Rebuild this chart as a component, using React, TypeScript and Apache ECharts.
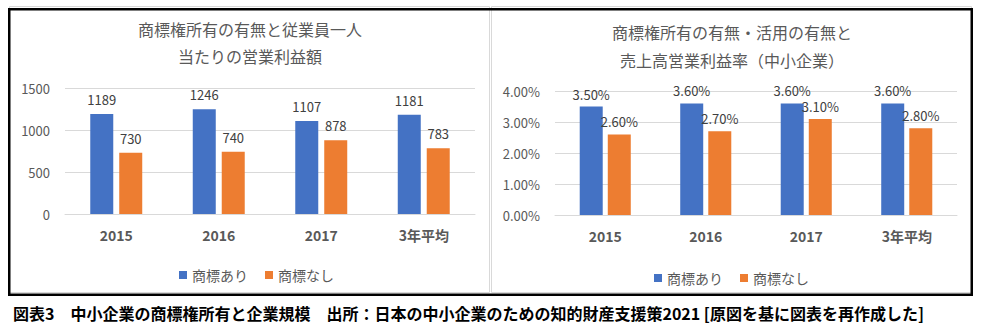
import React, { useEffect, useRef } from "react";
import * as echarts from "echarts";

const categories = ["2015", "2016", "2017", "3年平均"];
const seriesNames = ["商標あり", "商標なし"];
const profitWith = [1189, 1246, 1107, 1181];
const profitWithout = [730, 740, 878, 783];
const marginWith = [3.5, 3.6, 3.6, 3.6];
const marginWithout = [2.6, 2.7, 3.1, 2.8];
const profitAxis = { min: 0, max: 1500, interval: 500 };
const marginAxis = { min: 0, max: 4, interval: 1 };
const leftTitle = "商標権所有の有無と従業員一人\n当たりの営業利益額";
const rightTitle = "商標権所有の有無・活用の有無と\n売上高営業利益率（中小企業）";
const caption = "図表3　中小企業の商標権所有と企業規模　出所：日本の中小企業のための知的財産支援策2021 [原図を基に図表を再作成した]";

const FONT = '"Noto Sans CJK JP", "Noto Sans", sans-serif';
const BLUE = "#4472C4";
const ORANGE = "#ED7D31";
const GRID = "#d9d9d9";
const AXIS_TEXT = "#595959";
const LABEL_TEXT = "#404040";

export default function App() {
  const ref = useRef<HTMLDivElement>(null);
  useEffect(() => {
    document.body.style.margin = "0";
    const chart = echarts.init(ref.current!, null, { renderer: "svg" });
    const pct = (v: number) => v.toFixed(2) + "%";
    const plain = (v: number) => String(v);
    const catAxis = (gridIndex: number) => ({
      type: "category",
      gridIndex,
      data: categories,
      axisTick: { show: false },
      axisLine: { lineStyle: { color: GRID, width: 1 } },
      axisLabel: { color: AXIS_TEXT, fontFamily: FONT, fontSize: 14, fontWeight: "bold", margin: 14 },
    });
    const valAxis = (gridIndex: number, ax: any, fmt: (v: number) => string) => ({
      type: "value",
      gridIndex,
      min: ax.min,
      max: ax.max,
      interval: ax.interval,
      axisLine: { show: false },
      axisTick: { show: false },
      splitLine: { lineStyle: { color: GRID, width: 1 } },
      axisLabel: { color: AXIS_TEXT, fontFamily: FONT, fontSize: 13, margin: 15, formatter: fmt },
    });
    const bar = (name: string, data: number[], color: string, idx: number, fmt: (p: any) => string, dist: number, gap: string) => ({
      type: "bar",
      name,
      data,
      xAxisIndex: idx,
      yAxisIndex: idx,
      barWidth: 23,
      barGap: gap,
      itemStyle: { color },
      label: {
        show: true,
        position: "top",
        distance: dist,
        color: LABEL_TEXT,
        fontFamily: FONT,
        fontSize: 13,
        formatter: fmt,
      },
    });
    const legendBase = {
      data: seriesNames,
      icon: "rect",
      itemWidth: 8,
      itemHeight: 8,
      itemGap: 17,
      textStyle: { color: AXIS_TEXT, fontFamily: FONT, fontSize: 14 },
      selectedMode: false,
    };
    const txt = (text: string, x: number, y: number, font: string, fill: string, lineHeight?: number) => ({
      type: "text",
      x,
      y,
      silent: true,
      style: {
        text,
        font,
        fill,
        align: "center",
        verticalAlign: "middle",
        textAlign: "center",
        textVerticalAlign: "middle",
        lineHeight,
      },
    });
    chart.setOption({
      animation: false,
      backgroundColor: "#ffffff",
      grid: [
        { left: 65, top: 88, width: 410, height: 126, containLabel: false },
        { left: 555, top: 91, width: 402, height: 124, containLabel: false },
      ],
      xAxis: [catAxis(0), catAxis(1)],
      yAxis: [valAxis(0, profitAxis, plain), valAxis(1, marginAxis, pct)],
      legend: [
        { ...legendBase, left: 174, top: 263 },
        { ...legendBase, left: 649, top: 266 },
      ],
      series: [
        bar(seriesNames[0], profitWith, BLUE, 0, (p: any) => String(p.value), 8, "26%"),
        bar(seriesNames[1], profitWithout, ORANGE, 0, (p: any) => String(p.value), 8, "26%"),
        bar(seriesNames[0], marginWith, BLUE, 1, (p: any) => pct(p.value), 6, "22%"),
        bar(seriesNames[1], marginWithout, ORANGE, 1, (p: any) => pct(p.value), 6, "22%"),
      ],
      graphic: [
        { type: "rect", silent: true, shape: { x: 9.5, y: 6.5, width: 480, height: 286 }, style: { fill: "none", stroke: GRID, lineWidth: 1 } },
        { type: "rect", silent: true, shape: { x: 491.5, y: 6.5, width: 480, height: 286 }, style: { fill: "none", stroke: GRID, lineWidth: 1 } },
        { type: "rect", silent: true, shape: { x: 9.25, y: 9.25, width: 962.5, height: 285.5 }, style: { fill: "none", stroke: "#000000", lineWidth: 2.5 } },
        txt(leftTitle, 250, 42.5, `16px ${FONT}`, AXIS_TEXT, 27),
        txt(rightTitle, 732, 46, `16px ${FONT}`, AXIS_TEXT, 28),
        {
          type: "text",
          x: 13,
          y: 313,
          silent: true,
          style: {
            text: caption,
            font: `bold 16px ${FONT}`,
            fill: "#000000",
            align: "left",
            verticalAlign: "middle",
            textAlign: "left",
            textVerticalAlign: "middle",
          },
        },
      ],
    });
    return () => chart.dispose();
  }, []);
  return <div ref={ref} style={{ width: 985, height: 335 }} />;
}
